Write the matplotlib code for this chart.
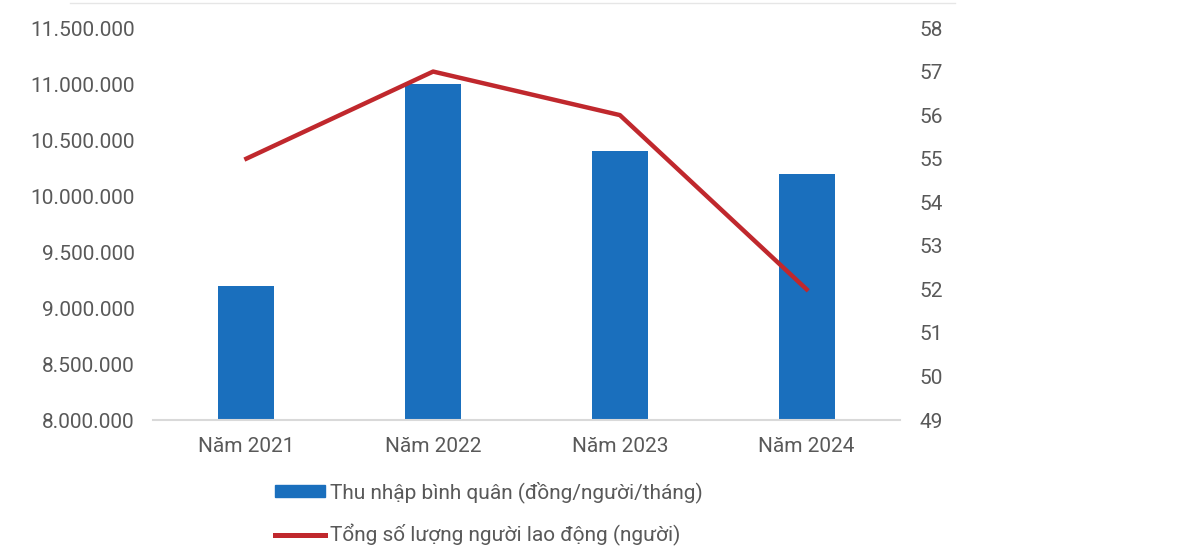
import numpy as np
import matplotlib.pyplot as plt
from matplotlib.ticker import FuncFormatter
from matplotlib.lines import Line2D
from matplotlib.patches import Patch

plt.rcParams['font.family'] = ['Roboto', 'DejaVu Sans']

years = ["Năm 2021", "Năm 2022", "Năm 2023", "Năm 2024"]
income = [9200000, 11000000, 10400000, 10200000]
workers = [55, 57, 56, 52]
bar_label = "Thu nhập bình quân (đồng/người/tháng)"
line_label = "Tổng số lượng người lao động (người)"

blue = "#1a6fbd"
red = "#c0282d"
grey = "#595959"

fig = plt.figure(figsize=(11.79, 5.47), dpi=100)
ax = fig.add_axes([153 / 1179, 1 - 420 / 547, (900 - 153) / 1179, (420 - 28) / 547])
x = np.arange(len(years))
ax.bar(x, income, width=0.3, color=blue, zorder=2)
ax.set_xlim(-0.5, len(years) - 0.5)
ax.set_ylim(8000000, 11500000)
ax.set_yticks(np.arange(8000000, 11500001, 500000))
ax.yaxis.set_major_formatter(FuncFormatter(lambda v, p: f"{int(v):,}".replace(",", ".")))
ax.set_xticks(x)
ax.set_xticklabels(years)

ax2 = ax.twinx()
ax2.plot(x, workers, color=red, lw=3.2, zorder=3)
ax2.set_ylim(49, 58)
ax2.set_yticks(range(49, 59))

for a in (ax, ax2):
    for s in a.spines.values():
        s.set_visible(False)
    a.tick_params(length=0, colors=grey, labelsize=15)
ax.spines['bottom'].set_visible(True)
ax.spines['bottom'].set_color("#d9d9d9")
ax.spines['bottom'].set_linewidth(1.5)
ax.tick_params(axis='y', pad=13)
ax.tick_params(axis='x', pad=12)
ax2.tick_params(axis='y', pad=14)

# thin border line at the top of the image
fig.add_artist(Line2D([70 / 1179, 955 / 1179], [1 - 3 / 547] * 2, color="#e6e6e6", lw=1))

handles = [Patch(color=blue), Line2D([0], [0], color=red, lw=3.6)]
fig.legend(handles, [bar_label, line_label], loc='upper left',
           bbox_to_anchor=(265 / 1179, 1 - 471 / 547), frameon=False,
           fontsize=15, labelcolor=grey, handlelength=2.4, handletextpad=0.2,
           handleheight=0.55, labelspacing=1.0, borderpad=0)

fig.savefig("out.png", dpi=100)
